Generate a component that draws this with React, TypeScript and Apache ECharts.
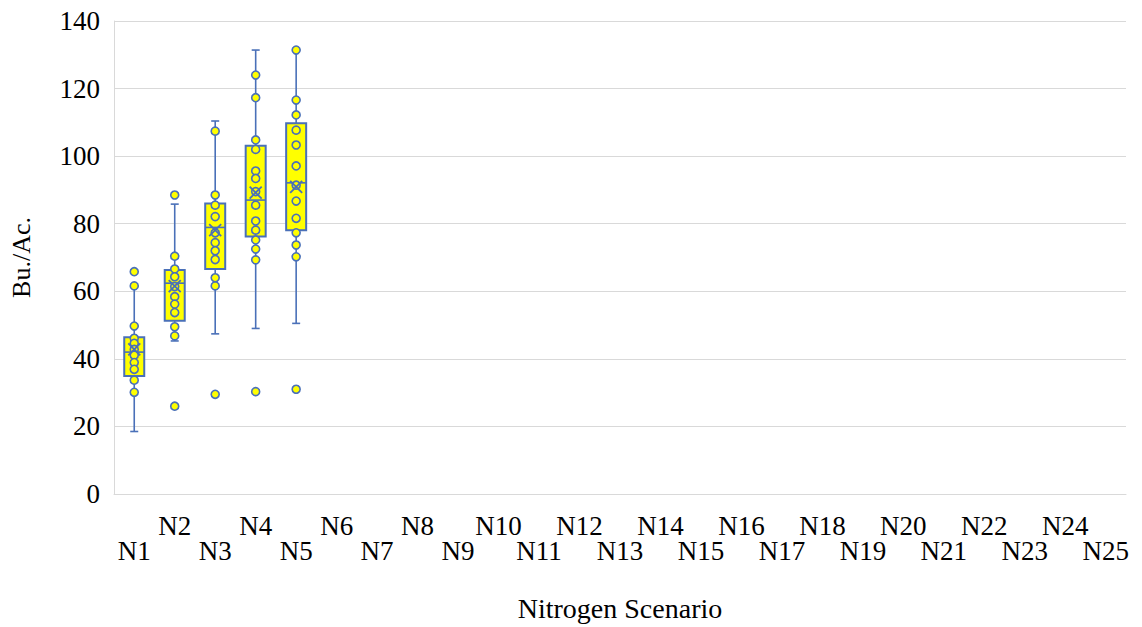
import React, { useEffect, useRef } from "react";
import * as echarts from "echarts";

const categories = [
  "N1", "N2", "N3", "N4", "N5", "N6", "N7", "N8", "N9", "N10",
  "N11", "N12", "N13", "N14", "N15", "N16", "N17", "N18", "N19", "N20",
  "N21", "N22", "N23", "N24", "N25",
];

// [index, whiskerMin, Q1, median, Q3, whiskerMax]
const boxStats = [
  [0, 18.5, 34.9, 42.0, 46.4, 61.6],
  [1, 45.3, 51.3, 62.4, 66.3, 85.8],
  [2, 47.4, 66.6, 78.9, 86.0, 110.4],
  [3, 49.0, 76.2, 87.0, 103.1, 131.4],
  [4, 50.5, 78.1, 92.1, 109.7, 131.4],
];

const means = [42.8, 61.5, 78.1, 89.2, 90.9];

const pointsN1 = [65.8, 61.6, 49.7, 46.1, 44.6, 42.8, 41.1, 38.9, 36.9, 33.7, 30.1];
const pointsN2 = [88.5, 70.4, 66.6, 64.3, 61.4, 58.4, 56.2, 53.7, 49.5, 46.8, 26.0];
const pointsN3 = [107.4, 88.5, 85.5, 82.1, 77.3, 74.4, 72.0, 69.4, 64.0, 61.6, 29.5];
const pointsN4 = [124.0, 117.3, 104.8, 102.0, 95.6, 93.4, 89.5, 85.5, 80.8, 78.1, 75.2, 72.5, 69.3, 30.3];
const pointsN5 = [131.4, 116.6, 112.2, 107.7, 103.3, 97.1, 91.4, 86.7, 81.6, 77.3, 73.7, 70.2, 31.0];

const yTicks = { min: 0, max: 140, interval: 20 };

const BLUE = "#4a70b8";
const YELLOW = "#ffff00";
const FONT = "Liberation Serif";

export default function App() {
  const ref = useRef<HTMLDivElement>(null);
  useEffect(() => {
    if (!ref.current) return;
    const chart = echarts.init(ref.current, null, { renderer: "svg" });
    const allPoints = [pointsN1, pointsN2, pointsN3, pointsN4, pointsN5];
    const scatterData: number[][] = [];
    allPoints.forEach((arr, i) => arr.forEach((v) => scatterData.push([i, v])));
    const meanData = means.map((m, i) => [i, m]);

    const option: any = {
      animation: false,
      textStyle: { fontFamily: FONT },
      grid: { left: 111, right: 16, top: 21, bottom: 133, containLabel: false },
      xAxis: {
        type: "category",
        data: categories,
        boundaryGap: true,
        axisLine: { show: true, lineStyle: { color: "#d9d9d9", width: 1 } },
        axisTick: { show: false },
        axisLabel: {
          interval: 0,
          margin: 19,
          color: "#000",
          fontFamily: FONT,
          fontSize: 27,
          lineHeight: 25,
          formatter: (v: string, i: number) => (i % 2 === 0 ? "\n" + v : v),
        },
        name: "Nitrogen Scenario",
        nameLocation: "middle",
        nameGap: 100,
        nameTextStyle: { color: "#000", fontFamily: FONT, fontSize: 28 },
      },
      yAxis: {
        type: "value",
        min: yTicks.min,
        max: yTicks.max,
        interval: yTicks.interval,
        axisLine: { show: true, lineStyle: { color: "#d9d9d9", width: 1 } },
        axisTick: { show: false },
        splitLine: { show: true, lineStyle: { color: "#d9d9d9", width: 1 } },
        axisLabel: { color: "#000", fontFamily: FONT, fontSize: 27, margin: 14 },
        name: "Bu./Ac.",
        nameLocation: "middle",
        nameGap: 80,
        nameRotate: 90,
        nameTextStyle: { color: "#000", fontFamily: FONT, fontSize: 26 },
      },
      series: [
        {
          type: "custom",
          z: 2,
          data: boxStats,
          renderItem: (params: any, api: any) => {
            const idx = api.value(0);
            const pMin = api.coord([idx, api.value(1)]);
            const pQ1 = api.coord([idx, api.value(2)]);
            const pMed = api.coord([idx, api.value(3)]);
            const pQ3 = api.coord([idx, api.value(4)]);
            const pMax = api.coord([idx, api.value(5)]);
            const x = pMed[0];
            const hw = 10;
            const cap = 4;
            const ls = { stroke: BLUE, lineWidth: 1.6 };
            return {
              type: "group",
              children: [
                { type: "line", shape: { x1: x, y1: pQ3[1], x2: x, y2: pMax[1] }, style: ls },
                { type: "line", shape: { x1: x, y1: pQ1[1], x2: x, y2: pMin[1] }, style: ls },
                { type: "line", shape: { x1: x - cap, y1: pMax[1], x2: x + cap, y2: pMax[1] }, style: ls },
                { type: "line", shape: { x1: x - cap, y1: pMin[1], x2: x + cap, y2: pMin[1] }, style: ls },
                {
                  type: "rect",
                  shape: { x: x - hw, y: pQ3[1], width: hw * 2, height: pQ1[1] - pQ3[1] },
                  style: { fill: YELLOW, stroke: BLUE, lineWidth: 2 },
                },
                { type: "line", shape: { x1: x - hw, y1: pMed[1], x2: x + hw, y2: pMed[1] }, style: ls },
              ],
            };
          },
        },
        {
          type: "scatter",
          z: 3,
          data: scatterData,
          symbol: "circle",
          symbolSize: 8,
          itemStyle: { color: YELLOW, borderColor: BLUE, borderWidth: 1.6, opacity: 1 },
        },
        {
          type: "custom",
          z: 4,
          data: meanData,
          renderItem: (params: any, api: any) => {
            const p = api.coord([api.value(0), api.value(1)]);
            const s = 6;
            const ls = { stroke: BLUE, lineWidth: 1.8 };
            return {
              type: "group",
              children: [
                { type: "line", shape: { x1: p[0] - s, y1: p[1] - s, x2: p[0] + s, y2: p[1] + s }, style: ls },
                { type: "line", shape: { x1: p[0] - s, y1: p[1] + s, x2: p[0] + s, y2: p[1] - s }, style: ls },
              ],
            };
          },
        },
      ],
    };
    chart.setOption(option);
    return () => chart.dispose();
  }, []);
  return (
    <div
      ref={ref}
      style={{ position: "fixed", left: 0, top: 0, width: 1142, height: 627, background: "#fff" }}
    />
  );
}
